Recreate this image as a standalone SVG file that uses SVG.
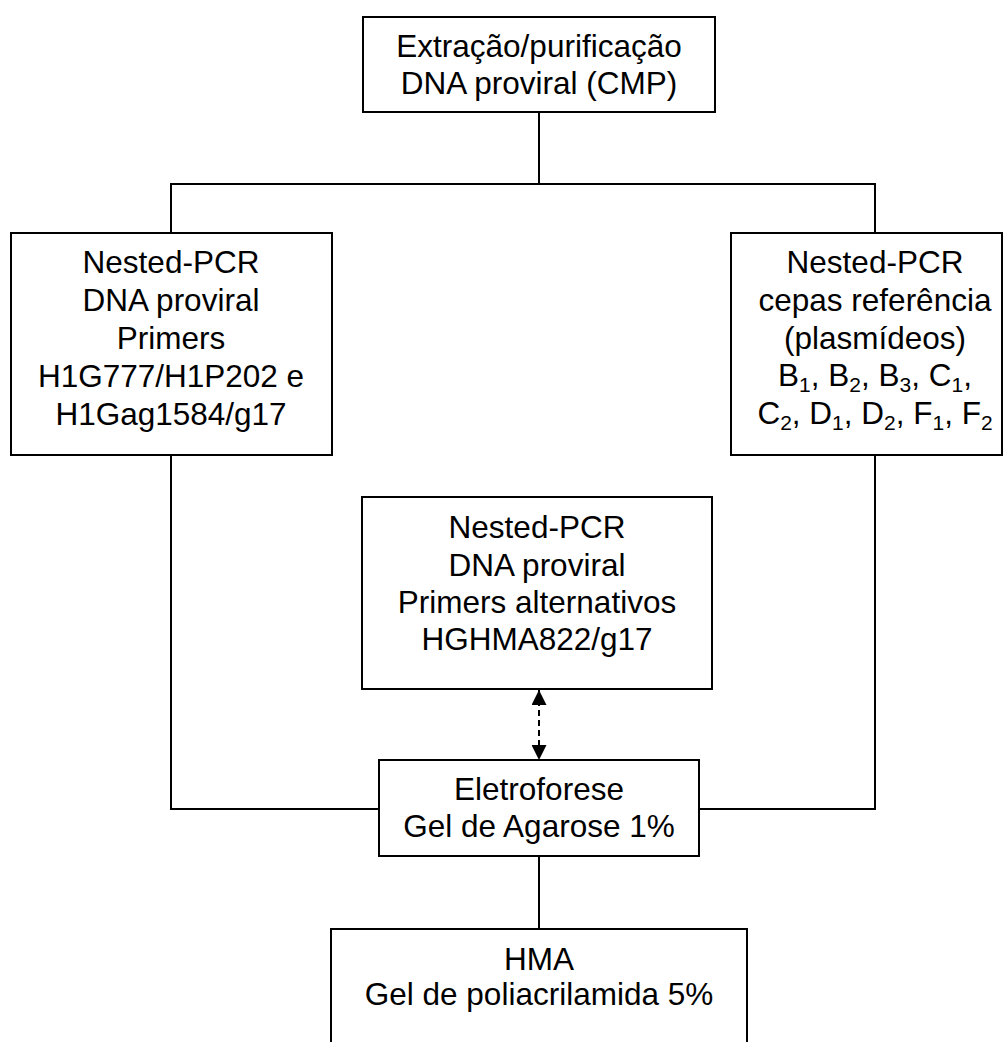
<svg xmlns="http://www.w3.org/2000/svg" width="1005" height="1042" viewBox="0 0 1005 1042">
<style>
.box{fill:#fff;stroke:#000;stroke-width:2}
.t{font-family:"Liberation Sans",Arial,sans-serif;font-size:31.5px;fill:#000;text-anchor:middle}
.c{fill:none;stroke:#000;stroke-width:2}
.s{font-size:21px}
</style>
<defs>
<marker id="ah" viewBox="0 0 10 10" refX="10" refY="5" markerWidth="15" markerHeight="15" markerUnits="userSpaceOnUse" orient="auto-start-reverse">
<path d="M0,0 L10,5 L0,10 Z" fill="#000"/>
</marker>
</defs>
<rect width="1005" height="1042" fill="#fff"/>
<g id="connectors">
<polyline class="c" points="539,112 539,184"/>
<polyline class="c" points="171,233 171,184 875,184 875,233"/>
<polyline class="c" points="171,455 171,809 379,809"/>
<polyline class="c" points="875,455 875,809 699,809"/>
<line class="c" x1="539" y1="856" x2="539" y2="929"/>
<line class="c" x1="539" y1="690" x2="539" y2="760" stroke-dasharray="6,4" marker-start="url(#ah)" marker-end="url(#ah)"/>
</g>
<g id="extracao">
<rect class="box" x="363" y="17" width="352" height="95"/>
<text class="t" x="539" y="57">Extração/purificação</text>
<text class="t" x="539" y="94">DNA proviral (CMP)</text>
</g>
<g id="nested-left">
<rect class="box" x="11" y="233" width="321" height="222"/>
<text class="t" x="171" y="273">Nested-PCR</text>
<text class="t" x="171" y="311">DNA proviral</text>
<text class="t" x="171" y="349">Primers</text>
<text class="t" x="171" y="387">H1G777/H1P202 e</text>
<text class="t" x="171" y="425">H1Gag1584/g17</text>
</g>
<g id="nested-right">
<rect class="box" x="731" y="233" width="271" height="222"/>
<text class="t" x="875" y="273">Nested-PCR</text>
<text class="t" x="875" y="311">cepas referência</text>
<text class="t" x="875" y="349">(plasmídeos)</text>
<text class="t" x="875" y="386">B<tspan class="s" dy="6">1</tspan><tspan dy="-6">, B</tspan><tspan class="s" dy="6">2</tspan><tspan dy="-6">, B</tspan><tspan class="s" dy="6">3</tspan><tspan dy="-6">, C</tspan><tspan class="s" dy="6">1</tspan><tspan dy="-6">,</tspan></text>
<text class="t" x="875" y="424">C<tspan class="s" dy="6">2</tspan><tspan dy="-6">, D</tspan><tspan class="s" dy="6">1</tspan><tspan dy="-6">, D</tspan><tspan class="s" dy="6">2</tspan><tspan dy="-6">, F</tspan><tspan class="s" dy="6">1</tspan><tspan dy="-6">, F</tspan><tspan class="s" dy="6">2</tspan></text>
</g>
<g id="nested-middle">
<rect class="box" x="362" y="497" width="350" height="192"/>
<text class="t" x="537" y="538">Nested-PCR</text>
<text class="t" x="537" y="576">DNA proviral</text>
<text class="t" x="537" y="613">Primers alternativos</text>
<text class="t" x="537" y="650">HGHMA822/g17</text>
</g>
<g id="eletroforese">
<rect class="box" x="379" y="760" width="320" height="96"/>
<text class="t" x="539" y="800">Eletroforese</text>
<text class="t" x="539" y="837">Gel de Agarose 1%</text>
</g>
<g id="hma">
<rect class="box" x="331" y="929" width="416" height="130"/>
<text class="t" x="539" y="970">HMA</text>
<text class="t" x="539" y="1005">Gel de poliacrilamida 5%</text>
</g>
</svg>
